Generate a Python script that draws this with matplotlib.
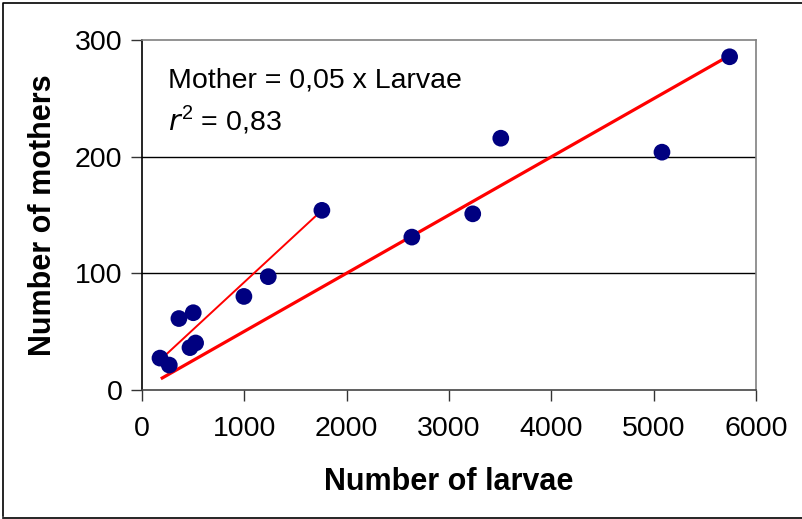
import numpy as np
import matplotlib.pyplot as plt
from matplotlib.lines import Line2D

plt.rcParams["font.family"] = ["Liberation Sans", "DejaVu Sans"]

# Larvae counted vs. mothers per site
larvae = [176, 267, 361, 501, 469, 524, 996, 1234, 1758, 2637, 3232, 3506, 5081, 5742]
mothers = [27, 21, 61, 66, 36, 40, 80, 97, 154, 131, 151, 216, 204, 286]

# Fitted regression through origin: Mother = 0,05 x Larvae
slope = 0.05
fit_x = [198, 5742]

# Fit for the low-density sites
low_x = [198, 1758]
low_y = [27, 154]

x_ticks = [0, 1000, 2000, 3000, 4000, 5000, 6000]
y_ticks = [0, 100, 200, 300]

fig = plt.figure(figsize=(8.03, 5.19), dpi=100)
ax = fig.add_axes([0.1768, 0.2495, 0.7647, 0.6725])

ax.set_xlim(0, 6000)
ax.set_ylim(0, 300)

# horizontal gridlines
for yv in y_ticks[1:-1]:
    ax.axhline(yv, color="black", linewidth=1.0, zorder=1)

fx = np.array(fit_x)
ax.plot(fx, slope * fx, color="#ff0000", linewidth=2.3, zorder=2)
ax.plot(low_x, low_y, color="#ff0000", linewidth=1.4, zorder=2)

ax.scatter(larvae, mothers, s=145, color="#000080", edgecolor="none", zorder=3)

ax.set_xticks(x_ticks)
ax.set_yticks(y_ticks)
ax.tick_params(axis="both", direction="out", length=8, width=1.0,
               labelsize=20.5, color="#333333")
ax.tick_params(axis="x", pad=11)
ax.tick_params(axis="y", pad=6)

ax.spines["left"].set_color("black")
ax.spines["bottom"].set_color("#444444")
ax.spines["top"].set_color("#808080")
ax.spines["right"].set_color("#808080")
for sp in ax.spines.values():
    sp.set_linewidth(1.2)

ax.set_xlabel("Number of larvae", fontsize=22, fontweight="bold", labelpad=18)
ax.set_ylabel("Number of mothers", fontsize=22, fontweight="bold", labelpad=12)

ax.text(0.043, 0.864, "Mother = 0,05 x Larvae", transform=ax.transAxes,
        fontsize=20.5, va="baseline", ha="left")
ax.text(0.043, 0.744, r"$\mathit{r}^{\mathregular{2}}$ = 0,83", transform=ax.transAxes,
        fontsize=20.5, va="baseline", ha="left")

# outer frame around the figure
W, H = 803, 519
frame_pts = [(3, 516), (3, 2.5), (W + 5, 2.5)]
fig.add_artist(Line2D([p[0] / W for p in frame_pts], [1 - p[1] / H for p in frame_pts],
                      transform=fig.transFigure, color="black", linewidth=1.2))
fig.add_artist(Line2D([3 / W, 1.01], [1 - 517.5 / H, 1 - 517.5 / H],
                      transform=fig.transFigure, color="black", linewidth=1.2))

fig.savefig("out.png", dpi=100)
